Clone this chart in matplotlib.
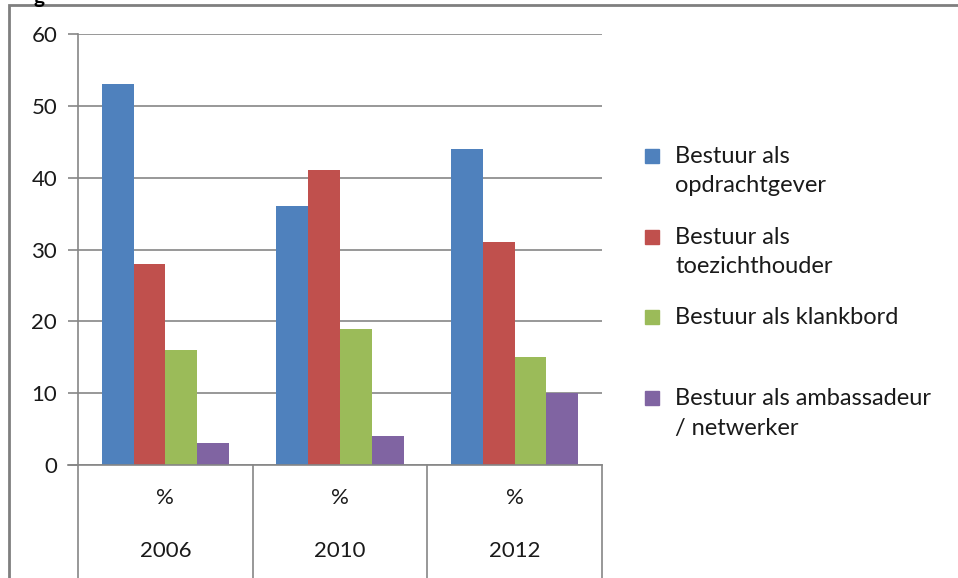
import matplotlib
matplotlib.use('Agg')
import matplotlib.pyplot as plt
from matplotlib.patches import Rectangle

years = ['2006', '2010', '2012']
sub_label = '%'
series = ['Bestuur als\nopdrachtgever', 'Bestuur als\ntoezichthouder',
          'Bestuur als klankbord', 'Bestuur als ambassadeur\n/ netwerker']
opdrachtgever = [53, 36, 44]
toezichthouder = [28, 41, 31]
klankbord = [16, 19, 15]
ambassadeur = [3, 4, 10]
values = [opdrachtgever, toezichthouder, klankbord, ambassadeur]
colors = ['#4F81BD', '#C0504D', '#9BBB59', '#8064A2']

plt.rcParams['font.family'] = ['Lato', 'DejaVu Sans']
W, H = 958, 578
fig = plt.figure(figsize=(W / 100, H / 100), dpi=100)

# outer chart frame (cut off at right/bottom in the reference)
fig.patches.append(Rectangle((9 / W, -0.05), 1.1, 1 - 5 / H + 0.05,
                             transform=fig.transFigure, fill=False,
                             edgecolor='#7f7f7f', linewidth=2, clip_on=False))
fig.text(33 / W, 1 - 3 / H, 'g', fontsize=15, fontweight='bold', va='baseline')

ax = fig.add_axes([78 / W, (H - 465) / H, (602 - 78) / W, (465 - 34) / H])
grid_c = '#868686'
txt_c = '#1a1a1a'
n = len(series)
bw = 0.182
for k, (vals, c) in enumerate(zip(values, colors)):
    xs = [i + 0.5 + (k - (n - 1) / 2) * bw for i in range(len(years))]
    ax.bar(xs, vals, width=bw, color=c, zorder=3)

ax.set_xlim(0, 3)
ax.set_ylim(0, 60)
ax.set_yticks(range(0, 61, 10))
ax.yaxis.grid(True, color=grid_c, linewidth=1.2, zorder=0)
ax.set_xticks([])
for s in ['top', 'right', 'bottom']:
    ax.spines[s].set_visible(False)
ax.spines['left'].set_color(grid_c)
ax.spines['left'].set_linewidth(1.2)
ax.tick_params(axis='y', length=7, color=grid_c, width=1.2, labelsize=16,
               labelcolor=txt_c, pad=8)

# multi-level category axis
ax.plot([-0.06, 3], [0, 0], color=grid_c, lw=1.2, clip_on=False, zorder=4)
for i in range(len(years) + 1):
    ax.plot([i, i], [0, -17], color=grid_c, lw=1.2, clip_on=False)
for i, y in enumerate(years):
    ax.text(i + 0.5, -4.6, sub_label, ha='center', va='center', fontsize=16,
            color=txt_c, clip_on=False)
    ax.text(i + 0.5, -12.0, y, ha='center', va='center', fontsize=16,
            color=txt_c, clip_on=False)

# legend
for k, (lab, c) in enumerate(zip(series, colors)):
    yc = 156 + k * 80.7
    fig.patches.append(Rectangle((645 / W, 1 - (yc + 7) / H), 14 / W, 14 / H,
                                 transform=fig.transFigure, color=c))
    fig.text(675 / W, 1 - (yc - 10) / H, lab, fontsize=17, va='top', ha='left',
             linespacing=1.5, color=txt_c)

fig.savefig('out.png', dpi=100)
